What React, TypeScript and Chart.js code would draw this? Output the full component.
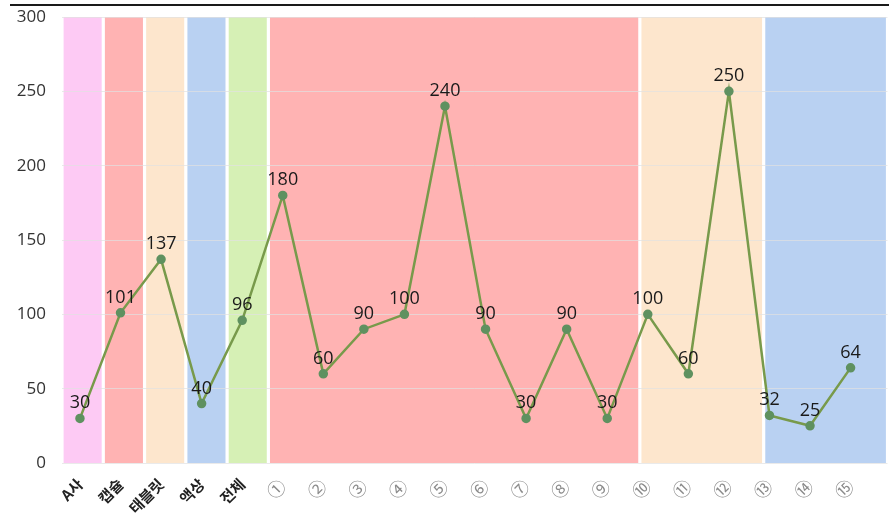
import React, { useEffect, useRef } from "react";
import { Chart, registerables } from "chart.js";

Chart.register(...registerables);

const categories = [
  "A사", "캡슐", "태블릿", "액상", "전체",
  "①", "②", "③", "④", "⑤", "⑥", "⑦", "⑧", "⑨",
  "⑩", "⑪", "⑫", "⑬", "⑭", "⑮",
];
const values = [30, 101, 137, 40, 96, 180, 60, 90, 100, 240, 90, 30, 90, 30, 100, 60, 250, 32, 25, 64];

// background band groups (category index ranges)
const bandStarts = [0, 1, 2, 3, 4, 5, 14, 17];
const bandEnds = [0, 1, 2, 3, 4, 13, 16, 19];
const bandColors = ["#fdcaf4", "#ffb3b3", "#fde6cd", "#b9d1f2", "#d6f0b5", "#ffb3b3", "#fde6cd", "#b9d1f2"];

const yTicks = [0, 50, 100, 150, 200, 250, 300];

const bandPlugin = {
  id: "bands",
  beforeDraw(chart: any) {
    const xb = chart.scales.xb;
    const y = chart.scales.y;
    const ctx = chart.ctx;
    const half = (xb.getPixelForValue(1) - xb.getPixelForValue(0)) / 2;
    const gap = 1.6;
    const top = y.getPixelForValue(yTicks[yTicks.length - 1]);
    const bottom = y.getPixelForValue(0);
    ctx.save();
    bandStarts.forEach((s, i) => {
      const x0 = xb.getPixelForValue(s) - half + gap;
      const x1 = xb.getPixelForValue(bandEnds[i]) + half - gap;
      ctx.fillStyle = bandColors[i];
      ctx.fillRect(x0, top, x1 - x0, bottom - top);
    });
    ctx.restore();
  },
};

const labelPlugin = {
  id: "valueLabels",
  afterDatasetsDraw(chart: any) {
    const ctx = chart.ctx;
    const meta = chart.getDatasetMeta(0);
    ctx.save();
    ctx.font = "18px 'Open Sans', 'Noto Sans', sans-serif";
    ctx.fillStyle = "#1a1a1a";
    ctx.textAlign = "center";
    ctx.textBaseline = "alphabetic";
    meta.data.forEach((pt: any, i: number) => {
      ctx.fillText(String(values[i]), pt.x, pt.y - 10);
    });
    ctx.restore();
  },
};

export default function App() {
  const ref = useRef<HTMLCanvasElement>(null);
  useEffect(() => {
    document.body.style.margin = "0";
    if (!ref.current) return;
    const chart = new Chart(ref.current, {
      type: "line",
      data: {
        datasets: [
          {
            data: values.map((v, i) => ({ x: i, y: v })),
            borderColor: "#789a4b",
            borderWidth: 2.5,
            pointBackgroundColor: "#5f9160",
            pointBorderColor: "#5f9160",
            pointRadius: 3.5,
            tension: 0,
            xAxisID: "x",
            yAxisID: "y",
          },
        ],
      },
      options: {
        responsive: false,
        animation: false,
        layout: { padding: { top: 17, right: 2, left: 0, bottom: 0 } },
        plugins: { legend: { display: false }, tooltip: { enabled: false } },
        scales: {
          xb: {
            type: "category",
            labels: categories,
            offset: true,
            display: false,
            position: "bottom",
          },
          x: {
            type: "linear",
            position: "bottom",
            min: -0.4425,
            max: 19.91,
            grid: { display: false, drawTicks: false },
            border: { display: false },
            afterBuildTicks: (s: any) => {
              s.ticks = categories.map((_, i) => ({ value: i }));
            },
            afterFit: (s: any) => {
              s.height = 57;
              s.paddingLeft = 0;
              s.paddingRight = 0;
            },
            ticks: {
              autoSkip: false,
              minRotation: 45,
              maxRotation: 45,
              padding: 12,
              callback: (v: any) => categories[v] ?? "",
              color: (c: any) => (c.index >= 5 ? "#8a8a8a" : "#222222"),
              font: (c: any) =>
                c.index >= 5
                  ? { family: "'Noto Sans CJK KR', sans-serif", size: 18 }
                  : { family: "'Noto Sans CJK KR', sans-serif", size: 15, weight: "bold" },
            },
          },
          y: {
            type: "linear",
            min: 0,
            max: 300,
            afterBuildTicks: (s: any) => {
              s.ticks = yTicks.map((v) => ({ value: v }));
            },
            afterFit: (s: any) => {
              s.width = 62;
              s.paddingTop = 0;
              s.paddingBottom = 0;
            },
            grid: { color: "rgba(225,225,225,0.7)", drawTicks: false, lineWidth: 1 },
            border: { display: false },
            ticks: {
              padding: 16,
              color: "#333333",
              font: { family: "'Open Sans', 'Noto Sans', sans-serif", size: 17 },
            },
          },
        },
      },
      plugins: [bandPlugin, labelPlugin],
    });
    return () => chart.destroy();
  }, []);

  return (
    <div style={{ position: "relative", width: 894, height: 520, background: "#fff" }}>
      <div
        style={{
          position: "absolute",
          left: 10,
          top: 4,
          width: 879,
          height: 2,
          background: "#1a1a1a",
        }}
      />
      <canvas ref={ref} width={894} height={520} style={{ display: "block" }} />
    </div>
  );
}
